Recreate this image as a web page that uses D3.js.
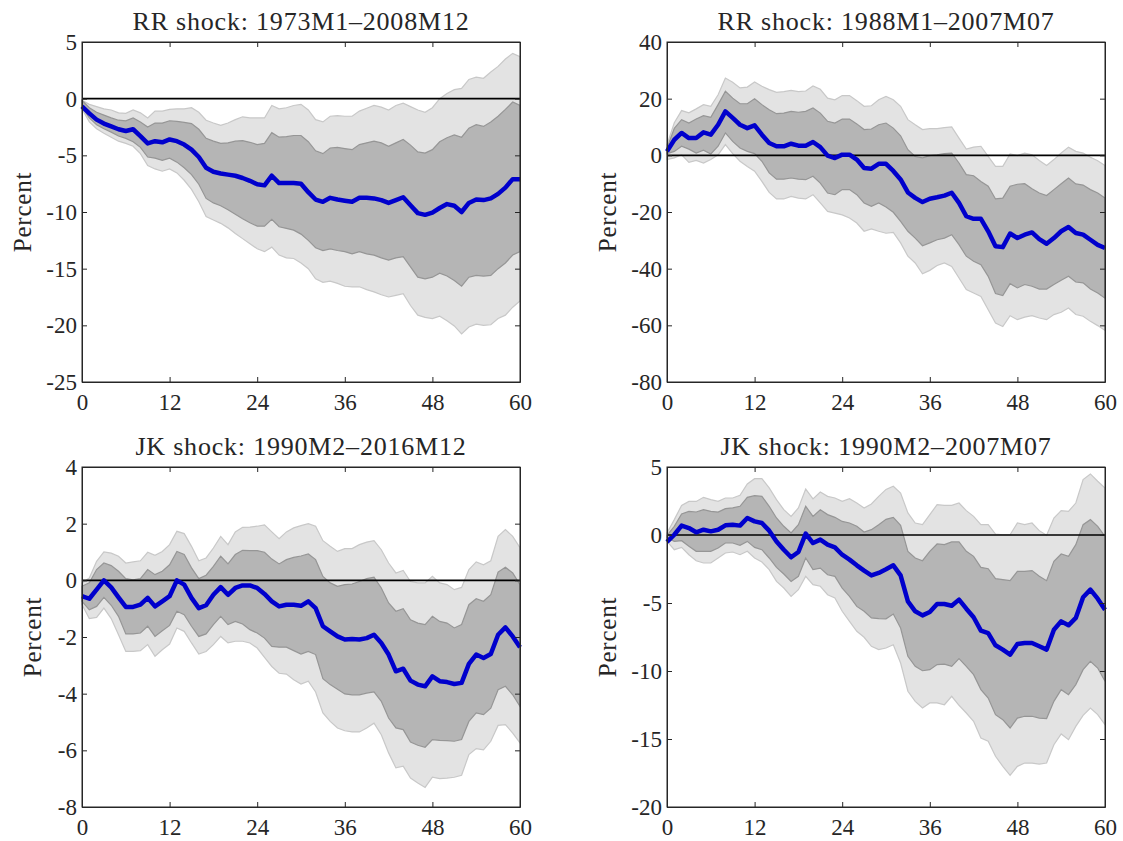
<!DOCTYPE html>
<html>
<head>
<meta charset="utf-8">
<script src="https://cdn.jsdelivr.net/npm/d3@7"></script>
<style>
  body { margin: 0; background: #fff; }
  svg text { font-family: 'Liberation Serif', 'Times New Roman', serif; fill: #262626; }
</style>
</head>
<body>
<div class="chart"></div>
<script>
// horizon in months, 0..60
const months = d3.range(0, 61);
const xTicks = [0, 12, 24, 36, 48, 60];

const titles = [
  'RR shock: 1973M1\u20132008M12',
  'RR shock: 1988M1\u20132007M07',
  'JK shock: 1990M2\u20132016M12',
  'JK shock: 1990M2\u20132007M07'
];
const yDomains = [[-25, 5], [-80, 40], [-8, 4], [-20, 5]];
const yTicks = [
  [-25, -20, -15, -10, -5, 0, 5],
  [-80, -60, -40, -20, 0, 20, 40],
  [-8, -6, -4, -2, 0, 2, 4],
  [-20, -15, -10, -5, 0, 5]
];

// panel 1: RR 1973-2008
const rrFullLine = [-0.68,-1.3,-1.85,-2.2,-2.45,-2.7,-2.85,-2.7,-3.3,-3.95,-3.75,
  -3.85,-3.6,-3.75,-4.05,-4.5,-5.15,-6.1,-6.45,-6.6,-6.7,
  -6.8,-7.0,-7.25,-7.55,-7.65,-6.8,-7.45,-7.45,-7.45,-7.5,
  -8.25,-8.9,-9.1,-8.75,-8.9,-9.0,-9.1,-8.75,-8.75,-8.8,
  -8.95,-9.2,-8.95,-8.7,-9.4,-10.1,-10.25,-10.05,-9.65,-9.3,
  -9.45,-10.0,-9.2,-8.9,-8.95,-8.8,-8.4,-7.85,-7.1,-7.1];
const rrFullHi90 = [-0.15,-0.5,-0.7,-0.9,-1.0,-1.25,-1.3,-1.0,-1.25,-1.7,-1.1,
  -1.1,-0.95,-0.9,-0.9,-0.8,-1.2,-1.9,-2.15,-2.35,-2.15,
  -1.85,-1.6,-1.7,-1.7,-1.7,-0.6,-0.9,-0.8,-0.6,-0.5,
  -1.0,-1.85,-2.05,-1.55,-1.5,-1.55,-1.55,-1.1,-0.85,-0.6,
  -0.75,-1.0,-0.6,-0.4,-0.7,-1.0,-1.2,-0.8,0.0,0.45,
  0.8,0.9,1.7,1.9,1.8,2.35,2.85,3.5,4.0,3.7];
const rrFullHi68 = [-0.15,-0.8,-1.2,-1.45,-1.7,-1.9,-1.95,-1.7,-2.05,-2.5,-2.15,
  -2.15,-1.95,-2.0,-2.1,-2.2,-2.7,-3.5,-3.75,-3.95,-3.9,
  -3.75,-3.7,-3.85,-4.05,-3.95,-3.0,-3.4,-3.35,-3.25,-3.25,
  -3.8,-4.6,-4.85,-4.35,-4.3,-4.4,-4.5,-4.05,-3.9,-3.75,
  -3.9,-4.2,-3.9,-3.6,-4.1,-4.7,-4.8,-4.5,-3.8,-3.45,
  -3.2,-3.4,-2.6,-2.3,-2.45,-2.05,-1.55,-0.95,-0.3,-0.6];
const rrFullLo68 = [-0.75,-1.7,-2.3,-2.65,-2.95,-3.3,-3.5,-3.8,-4.3,-5.15,-5.25,
  -5.45,-5.25,-5.6,-6.1,-6.7,-7.55,-8.8,-9.2,-9.45,-9.8,
  -10.2,-10.6,-10.95,-11.25,-11.25,-10.65,-11.3,-11.45,-11.6,-11.95,
  -12.5,-13.15,-13.4,-13.25,-13.4,-13.5,-13.7,-13.5,-13.7,-13.8,
  -14.05,-14.25,-14.05,-13.95,-14.85,-15.75,-15.9,-15.75,-15.4,-15.65,
  -16.05,-16.55,-15.75,-15.6,-15.65,-15.6,-15.0,-14.5,-13.8,-13.5];
const rrFullLo90 = [-0.9,-2.05,-2.65,-3.05,-3.4,-3.75,-3.95,-4.2,-4.85,-5.9,-6.2,
  -6.4,-6.2,-6.55,-7.2,-8.0,-9.1,-10.4,-10.7,-11.0,-11.4,
  -11.9,-12.35,-12.8,-13.25,-13.5,-13.1,-13.8,-14.05,-14.1,-14.5,
  -15.0,-15.9,-16.2,-16.1,-16.3,-16.55,-16.6,-16.6,-16.85,-17.05,
  -17.3,-17.5,-17.35,-17.2,-18.25,-19.1,-19.3,-19.4,-19.2,-19.6,
  -20.05,-20.75,-20.15,-19.9,-20.0,-19.95,-19.4,-19.1,-18.4,-17.85];

// panel 2: RR 1988-2007
const rrShortLine = [1.4,5.5,7.9,6.1,6.1,8.1,7.3,10.8,15.5,13.2,10.8,
  9.6,10.6,7.3,4.35,3.2,3.2,4.1,3.4,3.4,4.7,
  2.9,-0.1,-0.95,0.25,0.25,-1.5,-4.5,-4.7,-3.0,-3.0,
  -5.5,-8.5,-13.1,-15.0,-16.5,-15.3,-14.8,-14.2,-13.2,-16.8,
  -21.5,-22.4,-22.4,-26.8,-32.1,-32.4,-27.6,-29.2,-28.0,-27.2,
  -29.6,-31.2,-29.2,-26.8,-25.3,-27.4,-28.0,-29.8,-31.6,-32.7];
const rrShortHi90 = [3.8,11.5,15.8,15.0,16.4,17.9,17.3,21.4,27.3,25.8,23.8,
  24.1,25.9,24.4,23.2,22.2,22.5,22.9,22.5,22.7,24.5,
  23.3,20.2,19.6,21.1,21.1,19.3,17.3,17.5,19.6,20.8,
  19.6,17.3,12.6,10.8,9.1,9.4,9.4,9.8,10.0,6.1,
  2.2,2.9,3.2,-0.4,-3.9,-3.9,0.5,-0.1,0.8,0.2,
  -1.8,-3.6,-1.5,0.8,2.9,1.4,0.8,-0.7,-1.9,-3.6];
const rrShortHi68 = [2.6,9.5,12.6,11.4,12.8,14.0,13.4,17.9,22.6,20.2,18.2,
  18.2,20.0,17.9,16.1,14.7,14.9,15.5,15.2,15.5,16.7,
  14.9,12.0,11.4,12.8,12.8,11.1,9.1,9.3,10.8,11.4,
  9.6,6.9,2.0,-0.4,-0.9,-0.1,0.2,0.6,0.8,-2.7,
  -6.8,-7.2,-9.2,-10.9,-15.4,-15.1,-10.9,-10.2,-10.0,-11.8,
  -13.3,-14.2,-12.1,-10.0,-8.0,-10.1,-10.5,-12.1,-13.3,-15.1];
const rrShortLo68 = [0.6,1.4,3.2,2.2,0.8,1.8,0.5,3.2,7.9,4.9,2.6,
  1.4,0.6,-2.1,-6.2,-8.4,-8.4,-8.0,-8.4,-8.6,-7.4,
  -9.8,-13.3,-13.9,-12.1,-12.1,-13.9,-16.8,-18.0,-16.8,-18.2,
  -20.1,-23.3,-26.8,-29.2,-31.9,-30.9,-29.8,-29.2,-28.0,-31.5,
  -35.6,-37.4,-38.6,-42.7,-48.8,-49.5,-45.3,-46.8,-45.6,-46.2,
  -47.2,-47.2,-45.6,-44.1,-42.7,-44.7,-45.0,-47.2,-48.6,-50.4];
const rrShortLo90 = [-1.5,-0.9,0.2,-2.5,-1.8,-2.7,-1.5,0.2,3.8,0.6,-2.1,
  -3.9,-5.6,-9.2,-13.1,-15.4,-15.4,-14.5,-15.1,-15.4,-13.9,
  -16.8,-19.8,-20.4,-21.0,-22.1,-23.9,-26.8,-26.0,-26.8,-27.5,
  -27.2,-30.9,-35.6,-38.0,-41.8,-40.6,-38.9,-38.0,-39.2,-43.3,
  -47.4,-48.6,-49.8,-54.5,-59.2,-60.4,-56.6,-58.0,-57.1,-56.6,
  -57.4,-58.0,-56.2,-55.4,-53.9,-56.2,-56.8,-58.6,-60.1,-61.8];

// panel 3: JK 1990-2016
const jkFullLine = [-0.56,-0.65,-0.33,0.0,-0.25,-0.6,-0.94,-0.94,-0.86,-0.62,-0.92,
  -0.74,-0.56,0.0,-0.15,-0.62,-0.98,-0.88,-0.51,-0.24,-0.51,
  -0.27,-0.18,-0.18,-0.27,-0.48,-0.74,-0.92,-0.86,-0.86,-0.9,
  -0.74,-0.98,-1.62,-1.8,-1.98,-2.09,-2.07,-2.09,-2.04,-1.92,
  -2.21,-2.62,-3.21,-3.12,-3.54,-3.68,-3.74,-3.39,-3.56,-3.59,
  -3.66,-3.62,-2.95,-2.62,-2.74,-2.6,-1.92,-1.66,-1.98,-2.36];
const jkFullHi90 = [-0.09,0.08,0.67,1.0,0.96,0.85,0.61,0.65,0.69,0.99,0.88,
  1.02,1.26,1.73,1.65,1.2,0.69,0.79,1.14,1.55,1.26,
  1.71,1.87,1.88,1.91,1.96,1.71,1.47,1.71,1.85,1.93,
  2.0,1.91,1.4,1.2,1.02,1.12,1.12,1.26,1.35,1.4,
  1.08,0.61,0.26,0.35,-0.04,-0.09,-0.09,0.14,-0.09,-0.15,
  -0.33,-0.25,0.38,0.65,0.55,0.69,1.55,1.79,1.55,1.15];
const jkFullHi68 = [-0.21,-0.09,0.38,0.61,0.52,0.32,0.06,0.02,0.06,0.38,0.2,
  0.32,0.55,1.02,0.91,0.44,0.06,0.18,0.49,0.85,0.58,
  0.91,1.06,1.05,1.05,0.99,0.75,0.58,0.73,0.81,0.86,
  0.93,0.73,0.14,-0.09,-0.21,-0.15,-0.13,-0.04,0.06,0.11,
  -0.27,-0.8,-1.09,-1.0,-1.39,-1.51,-1.56,-1.27,-1.45,-1.51,
  -1.68,-1.56,-0.86,-0.65,-0.74,-0.51,0.29,0.46,0.26,-0.15];
const jkFullLo68 = [-0.74,-1.04,-0.92,-0.6,-0.88,-1.27,-1.89,-1.89,-1.86,-1.62,-1.98,
  -1.78,-1.59,-1.09,-1.21,-1.62,-1.98,-1.89,-1.56,-1.27,-1.56,
  -1.45,-1.54,-1.74,-1.86,-2.04,-2.33,-2.36,-2.36,-2.48,-2.6,
  -2.51,-2.62,-3.47,-3.68,-3.84,-4.01,-4.04,-4.04,-3.98,-3.94,
  -4.27,-4.86,-5.21,-5.27,-5.71,-5.82,-5.89,-5.62,-5.65,-5.66,
  -5.68,-5.62,-4.98,-4.68,-4.74,-4.51,-3.86,-3.74,-4.04,-4.45];
const jkFullLo90 = [-0.86,-1.35,-1.31,-0.98,-1.35,-1.92,-2.51,-2.51,-2.48,-2.27,-2.68,
  -2.45,-2.25,-1.68,-1.8,-2.21,-2.6,-2.51,-2.27,-1.98,-2.21,
  -2.15,-2.15,-2.21,-2.39,-2.72,-3.04,-3.28,-3.31,-3.51,-3.66,
  -3.56,-3.94,-4.68,-4.98,-5.21,-5.31,-5.35,-5.35,-5.21,-5.04,
  -5.45,-6.09,-6.62,-6.56,-6.98,-7.15,-7.31,-6.95,-7.0,-6.98,
  -6.95,-6.88,-6.15,-5.94,-5.98,-5.68,-5.12,-5.09,-5.39,-5.74];

// panel 4: JK 1990-2007
const jkShortLine = [-0.51,0.02,0.69,0.51,0.2,0.39,0.27,0.39,0.71,0.76,0.69,
  1.25,1.0,0.88,0.32,-0.47,-1.08,-1.64,-1.25,0.1,-0.59,
  -0.34,-0.71,-0.91,-1.45,-1.81,-2.23,-2.62,-2.97,-2.79,-2.52,
  -2.23,-2.97,-4.88,-5.61,-5.91,-5.66,-5.07,-5.07,-5.2,-4.75,
  -5.42,-6.05,-7.03,-7.21,-8.11,-8.43,-8.8,-8.01,-7.94,-7.94,
  -8.18,-8.43,-6.96,-6.35,-6.64,-6.1,-4.58,-4.02,-4.68,-5.49];
const jkShortHi90 = [0.15,1.13,2.18,2.47,2.47,2.77,2.6,2.47,2.72,2.72,2.92,
  3.75,4.14,4.14,3.46,2.6,1.86,1.37,1.99,3.38,2.65,
  3.16,2.84,2.72,2.47,2.67,2.35,1.99,2.28,2.84,3.35,
  3.58,3.09,1.62,0.88,0.76,1.5,2.23,2.18,2.18,2.35,
  1.79,1.37,0.76,0.76,0.07,0.02,0.02,0.88,0.76,0.88,
  0.32,-0.02,1.25,1.79,1.74,2.35,4.07,4.49,3.95,3.46];
const jkShortHi68 = [-0.02,0.64,1.54,1.74,1.69,1.86,1.74,1.69,1.94,1.99,2.11,
  2.77,2.89,2.84,2.11,1.25,0.64,0.15,0.76,2.11,1.37,
  1.86,1.5,1.3,1.0,0.88,0.64,0.22,0.39,0.76,1.15,
  1.3,0.71,-1.2,-1.69,-1.89,-1.2,-0.66,-0.71,-0.51,-0.51,
  -1.2,-1.57,-2.38,-2.48,-3.21,-3.28,-3.36,-2.67,-2.67,-2.62,
  -3.04,-3.36,-1.94,-1.4,-1.57,-0.71,0.76,1.13,0.64,-0.1];
const jkShortLo68 = [-0.22,-0.47,-0.42,-0.83,-1.2,-1.2,-1.2,-0.96,-0.59,-0.59,-0.76,
  -0.47,-0.91,-1.08,-1.69,-2.38,-2.87,-3.41,-3.04,-1.69,-2.55,
  -2.43,-2.92,-3.04,-3.9,-4.51,-5.25,-5.61,-6.1,-6.15,-6.16,
  -5.81,-6.84,-8.92,-9.66,-9.98,-9.9,-9.53,-9.49,-9.66,-9.09,
  -9.66,-10.27,-11.37,-11.99,-13.21,-13.58,-14.19,-13.46,-13.33,-13.33,
  -13.46,-13.5,-12.23,-11.37,-11.74,-11.0,-9.9,-9.29,-9.78,-10.76];
const jkShortLo90 = [-0.47,-1.08,-0.91,-1.45,-1.89,-2.06,-2.06,-1.69,-1.32,-1.25,-1.45,
  -1.2,-1.69,-1.99,-2.55,-3.41,-3.9,-4.51,-4.02,-3.04,-3.65,
  -3.77,-4.39,-4.63,-5.61,-6.35,-7.08,-7.52,-8.19,-8.43,-8.31,
  -8.07,-9.41,-11.49,-12.23,-12.72,-12.35,-12.35,-12.48,-11.86,-12.52,
  -13.09,-13.7,-14.93,-15.17,-16.27,-17.01,-17.67,-17.01,-16.77,-16.77,
  -16.84,-16.77,-15.42,-14.63,-15.05,-14.07,-13.26,-12.72,-13.21,-13.95];

const lines = [rrFullLine, rrShortLine, jkFullLine, jkShortLine];
const hi90 = [rrFullHi90, rrShortHi90, jkFullHi90, jkShortHi90];
const hi68 = [rrFullHi68, rrShortHi68, jkFullHi68, jkShortHi68];
const lo68 = [rrFullLo68, rrShortLo68, jkFullLo68, jkShortLo68];
const lo90 = [rrFullLo90, rrShortLo90, jkFullLo90, jkShortLo90];

const width = 1123, height = 841;
const panelW = 438, panelH = 340;
const lefts = [82, 667];
const tops = [42, 467];

const svg = d3.select('.chart').append('svg')
  .attr('width', width)
  .attr('height', height);

function drawPanel(k) {
  const left = lefts[k % 2];
  const top = tops[Math.floor(k / 2)];

  const x = d3.scaleLinear().domain([0, 60]).range([0, panelW]);
  const y = d3.scaleLinear().domain(yDomains[k]).range([panelH, 0]);

  const g = svg.append('g').attr('transform', `translate(${left},${top})`);

  const band = (lo, hi) => d3.area()
    .x(i => x(months[i]))
    .y0(i => y(lo[i]))
    .y1(i => y(hi[i]));
  const idx = d3.range(months.length);

  // 90% band
  g.append('path')
    .attr('d', band(lo90[k], hi90[k])(idx))
    .style('fill', '#e3e3e3')
    .style('stroke', '#c8c8c8')
    .style('stroke-width', '1.2px');

  // 68% band
  g.append('path')
    .attr('d', band(lo68[k], hi68[k])(idx))
    .style('fill', '#b5b5b5')
    .style('stroke', '#969696')
    .style('stroke-width', '1.2px');

  // zero line
  g.append('line')
    .attr('x1', 0).attr('x2', panelW)
    .attr('y1', y(0)).attr('y2', y(0))
    .style('stroke', '#000')
    .style('stroke-width', '1.6px');

  // point estimate
  g.append('path')
    .attr('d', d3.line().x(i => x(months[i])).y(i => y(lines[k][i]))(idx))
    .style('fill', 'none')
    .style('stroke', '#0000cc')
    .style('stroke-width', '4.5px')
    .style('stroke-linejoin', 'round');

  // box with inward ticks on all sides
  const fmt = d => String(d);
  g.append('g').attr('transform', `translate(0,${panelH})`)
    .call(d3.axisBottom(x).tickValues(xTicks).tickSizeInner(-5).tickSizeOuter(0).tickPadding(12).tickFormat(fmt));
  g.append('g')
    .call(d3.axisTop(x).tickValues(xTicks).tickSizeInner(-5).tickSizeOuter(0).tickFormat(''));
  g.append('g')
    .call(d3.axisLeft(y).tickValues(yTicks[k]).tickSizeInner(-5).tickSizeOuter(0).tickPadding(5).tickFormat(fmt));
  g.append('g').attr('transform', `translate(${panelW},0)`)
    .call(d3.axisRight(y).tickValues(yTicks[k]).tickSizeInner(-5).tickSizeOuter(0).tickFormat(''));

  g.selectAll('.domain, .tick line')
    .style('stroke', '#262626')
    .style('stroke-width', '1px');
  g.selectAll('.tick text')
    .style('font-size', '23px')
    .style('font-family', "'Liberation Serif', serif")
    .style('fill', '#262626');

  g.append('rect')
    .attr('width', panelW).attr('height', panelH)
    .style('fill', 'none')
    .style('stroke', '#262626')
    .style('stroke-width', '1px');

  // title
  g.append('text')
    .attr('x', panelW / 2)
    .attr('y', -12.5)
    .attr('text-anchor', 'middle')
    .style('font-size', '26px')
    .style('letter-spacing', '0.8px')
    .text(titles[k]);

  // y label
  const labelX = k === 2 ? -41 : -51;
  g.append('text')
    .attr('transform', `translate(${labelX},${panelH / 2}) rotate(-90)`)
    .attr('text-anchor', 'middle')
    .style('font-size', '25px')
    .style('letter-spacing', '0.8px')
    .text('Percent');
}

for (let k = 0; k < 4; k++) drawPanel(k);
</script>
</body>
</html>
